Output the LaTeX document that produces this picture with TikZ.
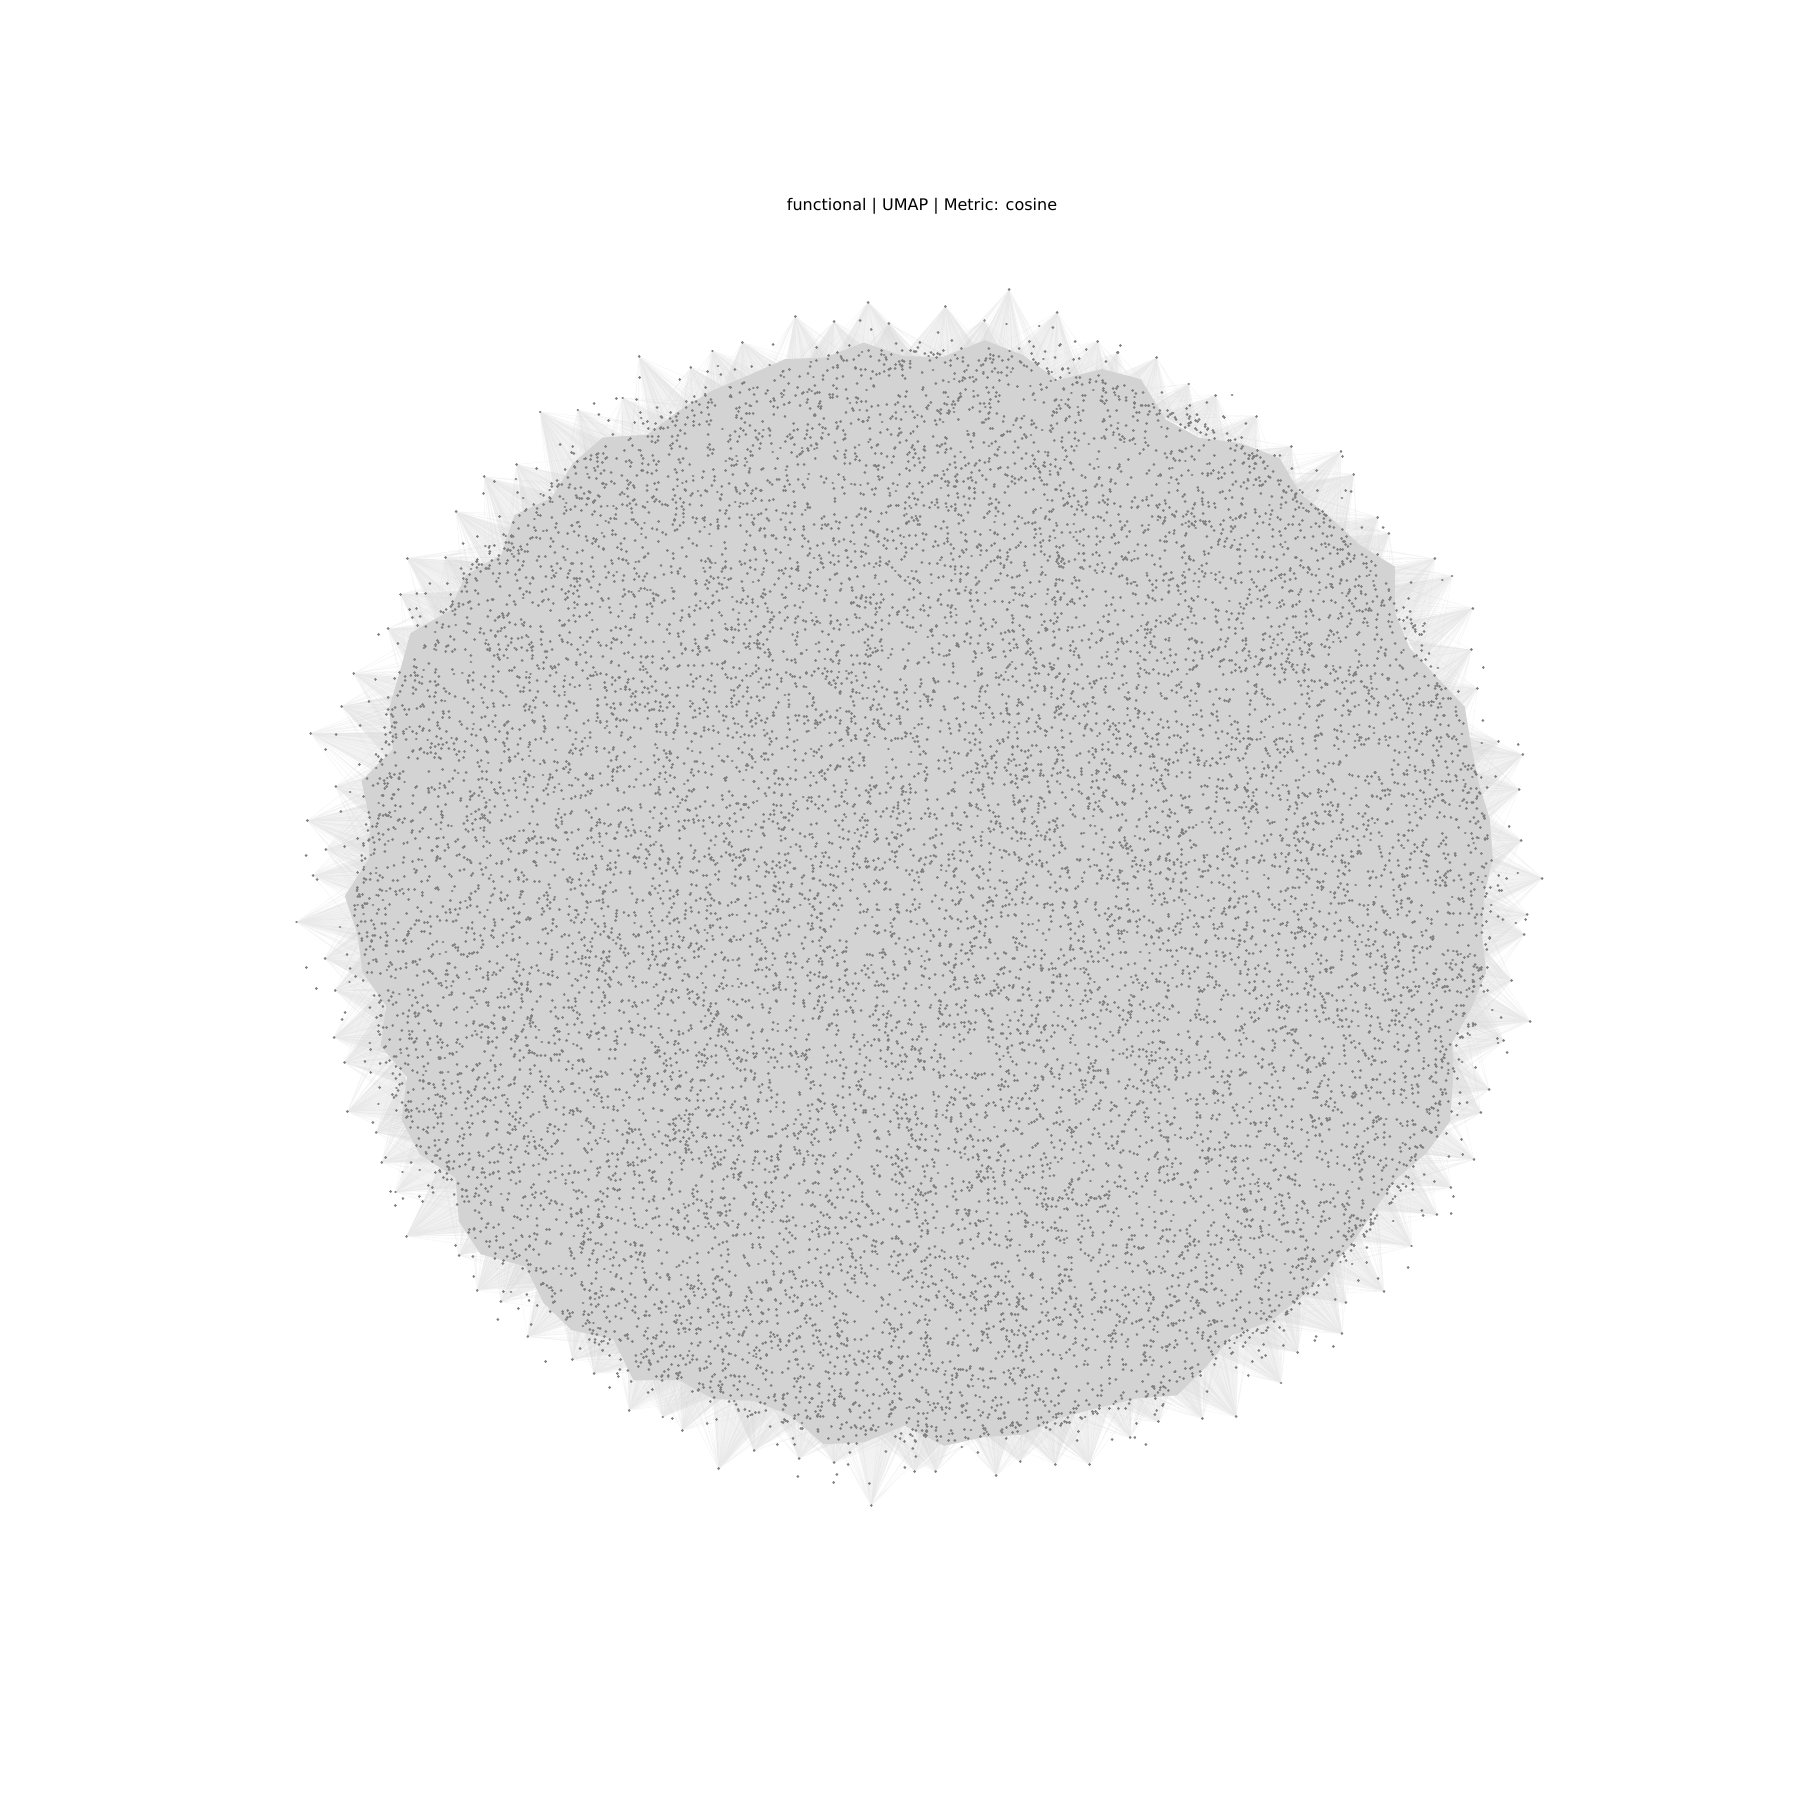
\documentclass[tikz,border=0pt]{standalone}
\usepackage{fontspec}
\setmainfont{DejaVu Sans}
\definecolor{body}{HTML}{D3D3D3}
\definecolor{pts}{HTML}{808080}
\begin{document}
\begin{tikzpicture}[x=0.01cm, y=-0.01cm,
          blob/.style={fill=body},
          tooth/.style={fill=body, opacity=0.3},
          link/.style={draw=body, opacity=0.28, line width=0.12pt},
          pt/.style={draw=pts, line width=0.82pt, line cap=round}]
        \useasboundingbox (0,0) rectangle (1800,1800);
        \pgfmathsetseed{4242}
        \node[anchor=base, font=\fontsize{4.55}{5.5}\selectfont] (title) at (922,210)
             {functional | UMAP | Metric: cosine};
        % solid body made by the dense neighbour links
        \fill[blob] (924+560,896) \foreach \i [evaluate=\i as \r using 0.935+0.055*rnd] in {1,...,89}
             { -- ({924+\r*588*cos(\i*4)}, {896+\r*566*sin(\i*4)}) } -- cycle;
        % hubs on the rim with their fans of links
        \foreach \k [evaluate=\k as \a using \k*3.6+2.5*rnd,
                     evaluate=\k as \q using 1.01+0.09*rnd*rnd,
                     evaluate=\k as \w using 2+3*rnd] in {0,...,99} {
          \coordinate (hub) at ({924+\q*588*cos(\a)}, {896+\q*566*sin(\a)});
          \fill[tooth] (hub) -- ({924+0.94*588*cos(\a-\w)}, {896+0.94*566*sin(\a-\w)})
               -- ({924+0.94*588*cos(\a+\w)}, {896+0.94*566*sin(\a+\w)}) -- cycle;
          \draw[link] \foreach \j [evaluate=\j as \b using \a+16*rnd-8,
                                   evaluate=\j as \p using 0.84+0.12*rnd] in {1,...,40}
               { (hub) -- ({924+\p*588*cos(\b)}, {896+\p*566*sin(\b)}) };
          \draw[pt] (hub) -- ++(0.05,0);
        }
        % fringe points between the body and the hubs
        \draw[pt] \foreach \i [evaluate=\i as \a using 360*rnd,
                               evaluate=\i as \p using 0.94+0.12*rnd*rnd] in {1,...,700}
             { ({924+\p*588*cos(\a)}, {896+\p*566*sin(\a)}) -- ++(0.05,0) };
        % embedded points
        \foreach \n in {1,...,155} {
          \draw[pt] \foreach \i [evaluate=\i as \a using 360*rnd,
                                 evaluate=\i as \s using sqrt(rnd)*0.965] in {1,...,100}
               { ({924+\s*588*cos(\a)}, {896+\s*566*sin(\a)}) -- ++(0.05,0) };
        }
      \end{tikzpicture}
\end{document}
